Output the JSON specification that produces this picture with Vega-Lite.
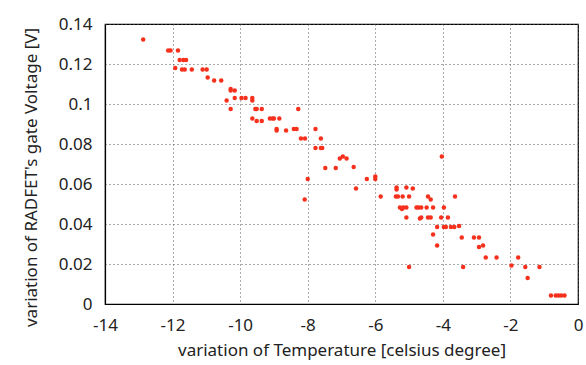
{
  "$schema": "https://vega.github.io/schema/vega-lite/v6.json",
  "width": 473,
  "height": 280,
  "autosize": {"type": "none"},
  "padding": {"left": 105, "top": 24, "right": 8, "bottom": 61},
  "background": "white",
  "config": {
    "view": {"stroke": "#000000", "strokeWidth": 1.2},
    "font": "Noto Sans",
    "axis": {
      "labelFont": "Noto Sans",
      "titleFont": "Noto Sans",
      "labelFontSize": 17,
      "titleFontSize": 17,
      "titleFontWeight": "normal",
      "labelColor": "#222",
      "titleColor": "#222",
      "labelFlush": false,
      "domain": true,
      "domainColor": "#000000",
      "domainWidth": 1.2,
      "ticks": true,
      "tickSize": 8,
      "tickColor": "#222222",
      "tickOpacity": 0
    }
  },
  "data": {
    "values": [
      {"t": -12.87, "v": 0.1322}, {"t": -12.13, "v": 0.1267}, {"t": -12.06, "v": 0.1267}, {"t": -11.84, "v": 0.1267},
      {"t": -11.79, "v": 0.122}, {"t": -11.68, "v": 0.122}, {"t": -11.6, "v": 0.122}, {"t": -11.92, "v": 0.118},
      {"t": -11.72, "v": 0.1172}, {"t": -11.64, "v": 0.1172}, {"t": -11.43, "v": 0.1172}, {"t": -11.11, "v": 0.1172},
      {"t": -10.99, "v": 0.1172}, {"t": -10.96, "v": 0.1132}, {"t": -10.77, "v": 0.1118}, {"t": -10.56, "v": 0.1118},
      {"t": -10.28, "v": 0.1075}, {"t": -10.28, "v": 0.1068}, {"t": -10.16, "v": 0.1068}, {"t": -10.4, "v": 0.1017},
      {"t": -10.16, "v": 0.103}, {"t": -9.96, "v": 0.103}, {"t": -9.84, "v": 0.103}, {"t": -9.64, "v": 0.103},
      {"t": -9.64, "v": 0.1017}, {"t": -10.28, "v": 0.0975}, {"t": -9.55, "v": 0.0975}, {"t": -9.51, "v": 0.0975},
      {"t": -9.36, "v": 0.0975}, {"t": -9.64, "v": 0.0928}, {"t": -9.51, "v": 0.0915}, {"t": -9.36, "v": 0.0915},
      {"t": -9.12, "v": 0.0928}, {"t": -9.04, "v": 0.0928}, {"t": -9.0, "v": 0.0928}, {"t": -8.84, "v": 0.0928},
      {"t": -8.28, "v": 0.0975}, {"t": -8.92, "v": 0.0875}, {"t": -8.92, "v": 0.0867}, {"t": -8.64, "v": 0.0867},
      {"t": -8.41, "v": 0.0875}, {"t": -8.33, "v": 0.0875}, {"t": -8.2, "v": 0.0827}, {"t": -8.08, "v": 0.0827},
      {"t": -7.77, "v": 0.0875}, {"t": -7.61, "v": 0.0827}, {"t": -7.77, "v": 0.078}, {"t": -7.61, "v": 0.078},
      {"t": -7.57, "v": 0.078}, {"t": -7.05, "v": 0.0727}, {"t": -6.96, "v": 0.0738}, {"t": -6.85, "v": 0.0727},
      {"t": -7.48, "v": 0.068}, {"t": -7.17, "v": 0.068}, {"t": -6.64, "v": 0.0685}, {"t": -8.0, "v": 0.0625},
      {"t": -8.09, "v": 0.0523}, {"t": -6.57, "v": 0.0577}, {"t": -6.25, "v": 0.0625}, {"t": -6.0, "v": 0.0638},
      {"t": -6.0, "v": 0.0625}, {"t": -5.84, "v": 0.0537}, {"t": -5.37, "v": 0.0583}, {"t": -5.37, "v": 0.0573},
      {"t": -5.08, "v": 0.0583}, {"t": -4.89, "v": 0.0577}, {"t": -5.39, "v": 0.0537}, {"t": -5.33, "v": 0.0537},
      {"t": -5.19, "v": 0.0537}, {"t": -5.0, "v": 0.0537}, {"t": -5.27, "v": 0.0482}, {"t": -5.21, "v": 0.0475},
      {"t": -5.17, "v": 0.0482}, {"t": -5.08, "v": 0.0482}, {"t": -5.08, "v": 0.0433}, {"t": -4.78, "v": 0.0482},
      {"t": -4.72, "v": 0.0482}, {"t": -4.64, "v": 0.0482}, {"t": -4.48, "v": 0.0482}, {"t": -4.29, "v": 0.0482},
      {"t": -4.44, "v": 0.0537}, {"t": -4.36, "v": 0.0522}, {"t": -4.68, "v": 0.0428}, {"t": -4.64, "v": 0.0433},
      {"t": -4.44, "v": 0.0433}, {"t": -4.36, "v": 0.0433}, {"t": -4.03, "v": 0.0738}, {"t": -3.97, "v": 0.0482},
      {"t": -4.05, "v": 0.0433}, {"t": -3.85, "v": 0.0433}, {"t": -3.64, "v": 0.0537}, {"t": -4.17, "v": 0.0385},
      {"t": -4.29, "v": 0.0347}, {"t": -4.17, "v": 0.0292}, {"t": -3.97, "v": 0.0385}, {"t": -3.91, "v": 0.0385},
      {"t": -3.76, "v": 0.0385}, {"t": -3.66, "v": 0.0385}, {"t": -3.52, "v": 0.039}, {"t": -3.44, "v": 0.0333},
      {"t": -3.08, "v": 0.0333}, {"t": -2.93, "v": 0.0333}, {"t": -2.93, "v": 0.0285}, {"t": -2.81, "v": 0.0292},
      {"t": -2.73, "v": 0.0232}, {"t": -2.41, "v": 0.0232}, {"t": -5.0, "v": 0.0185}, {"t": -3.4, "v": 0.0185},
      {"t": -1.97, "v": 0.0192}, {"t": -1.77, "v": 0.0232}, {"t": -1.56, "v": 0.0185}, {"t": -1.49, "v": 0.013},
      {"t": -1.14, "v": 0.0185}, {"t": -0.8, "v": 0.0042}, {"t": -0.66, "v": 0.0042}, {"t": -0.58, "v": 0.0042},
      {"t": -0.5, "v": 0.0042}, {"t": -0.4, "v": 0.0042}
    ]
  },
  "mark": {"type": "point", "filled": true, "shape": "circle", "size": 20, "color": "#f5301c", "opacity": 1},
  "encoding": {
    "x": {
      "field": "t", "type": "quantitative",
      "scale": {"domain": [-14, 0], "nice": false, "zero": false},
      "axis": {
        "title": "variation of Temperature [celsius degree]",
        "values": [-14, -12, -10, -8, -6, -4, -2, 0],
        "labelExpr": "datum.value + ''",
        "grid": true, "gridColor": "#555", "gridDash": [1, 3], "gridWidth": 1,
        "labelPadding": 5, "titlePadding": 9
      }
    },
    "y": {
      "field": "v", "type": "quantitative",
      "scale": {"domain": [0, 0.14], "nice": false},
      "axis": {
        "title": "variation of RADFET's gate Voltage [V]",
        "values": [0, 0.02, 0.04, 0.06, 0.08, 0.1, 0.12, 0.14],
        "format": "~g",
        "grid": true, "gridColor": "#555", "gridDash": [1, 3], "gridWidth": 1,
        "labelPadding": 5, "titlePadding": 18, "titleY": 153
      }
    }
  }
}
